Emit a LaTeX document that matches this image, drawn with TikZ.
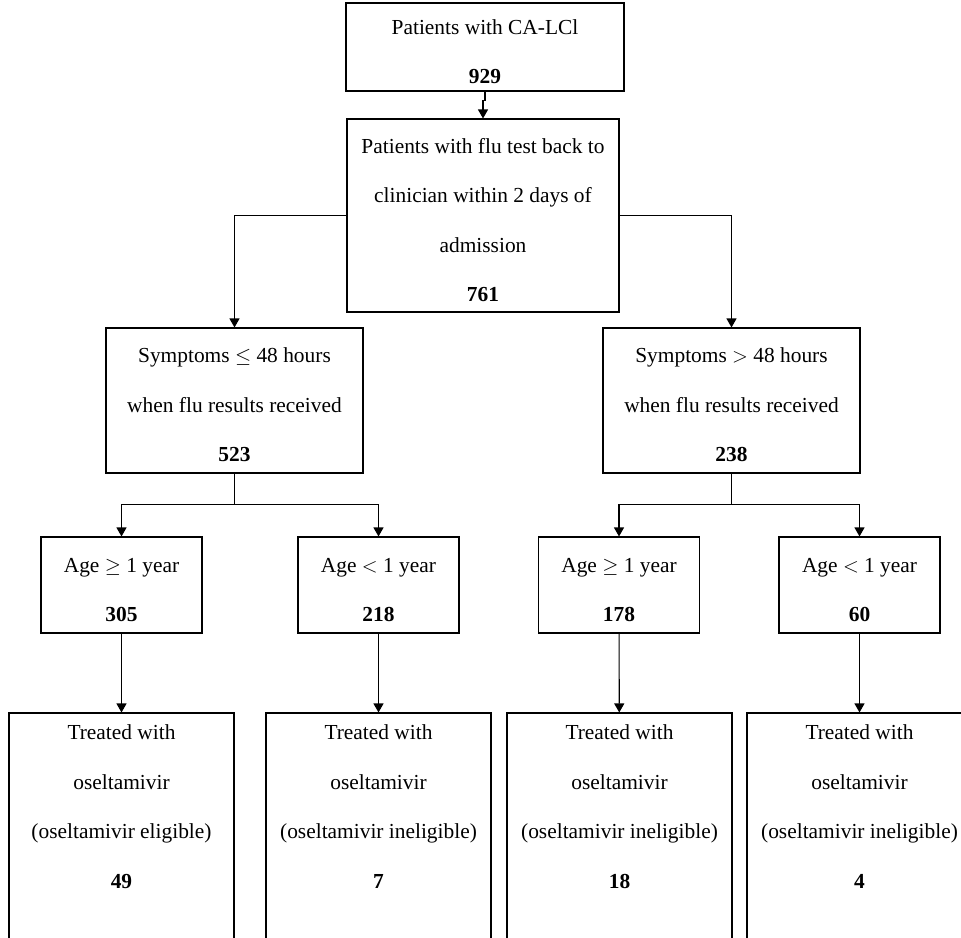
\documentclass[tikz,border=0pt]{standalone}
\usepackage{fontspec}
\setmainfont{Liberation Serif}
\usetikzlibrary{arrows.meta,positioning}
\newcommand{\toppad}{\rule{0pt}{24pt}}

\begin{document}
\begin{tikzpicture}[
  x=1pt, y=-1pt,
  every node/.style={font=\fontsize{21.4}{49.5}\selectfont},
  box/.style={draw, line width=1.1pt, align=center, inner sep=0pt},
  symbox/.style={box, minimum width=257pt, minimum height=145pt},
  agebox/.style={box, minimum width=161pt, minimum height=96pt},
  leaf/.style={box, minimum width=225pt, minimum height=237pt},
  edge/.style={-{Triangle[length=9pt,width=10pt]}, line width=1.1pt},
  link/.style={line width=1.1pt}
]
  \clip (0,0) rectangle (961,937);

  % Cohort
  \node[box, minimum width=278pt, minimum height=88pt] (cohort) at (485,47)
    {\toppad Patients with CA-LCl\\\textbf{929}};
  \node[box, minimum width=272pt, minimum height=193pt] (flu) at (483,215.5)
    {\toppad Patients with flu test back to\\clinician within 2 days of\\admission\\\textbf{761}};

  \draw[edge] (cohort.south) -- ++(0,9) -| (flu.north);

  % Symptom duration
  \node[symbox] (early) at (234.5,400.5)
    {\toppad Symptoms $\le$ 48 hours\\when flu results received\\\textbf{523}};
  \node[symbox] (late) at (731.5,400.5)
    {\toppad Symptoms $>$ 48 hours\\when flu results received\\\textbf{238}};

  \draw[edge] (flu.west) -| (early.north);
  \draw[edge] (flu.east) -| (late.north);

  % Age split
  \node[agebox] (earlyold) at (121.5,585) {\toppad Age $\ge$ 1 year\\\textbf{305}};
  \node[agebox] (earlyyoung) at (378.5,585) {\toppad Age $<$ 1 year\\\textbf{218}};
  \node[agebox] (lateold) at (619,585) {\toppad Age $\ge$ 1 year\\\textbf{178}};
  \node[agebox] (lateyoung) at (859.5,585) {\toppad Age $<$ 1 year\\\textbf{60}};

  \draw[link] (early.south) -- ++(0,31) coordinate (earlyfork);
  \draw[edge] (earlyfork) -| (earlyold.north);
  \draw[edge] (earlyfork) -| (earlyyoung.north);
  \draw[link] (late.south) -- ++(0,31) coordinate (latefork);
  \draw[edge] (latefork) -| (lateold.north);
  \draw[edge] (latefork) -| (lateyoung.north);

  % Treatment
  \node[leaf] (earlyoldrx) at (121.5,831.5)
    {Treated with\\oseltamivir\\(oseltamivir eligible)\\\textbf{49}\\\mbox{}};
  \node[leaf] (earlyyoungrx) at (378.5,831.5)
    {Treated with\\oseltamivir\\(oseltamivir ineligible)\\\textbf{7}\\\mbox{}};
  \node[leaf] (lateoldrx) at (619.5,831.5)
    {Treated with\\oseltamivir\\(oseltamivir ineligible)\\\textbf{18}\\\mbox{}};
  \node[leaf] (lateyoungrx) at (859.5,831.5)
    {Treated with\\oseltamivir\\(oseltamivir ineligible)\\\textbf{4}\\\mbox{}};

  \draw[edge] (earlyold) -- (earlyoldrx);
  \draw[edge] (earlyyoung) -- (earlyyoungrx);
  \draw[edge] (lateold) -- (lateoldrx);
  \draw[edge] (lateyoung) -- (lateyoungrx);
\end{tikzpicture}
\end{document}
